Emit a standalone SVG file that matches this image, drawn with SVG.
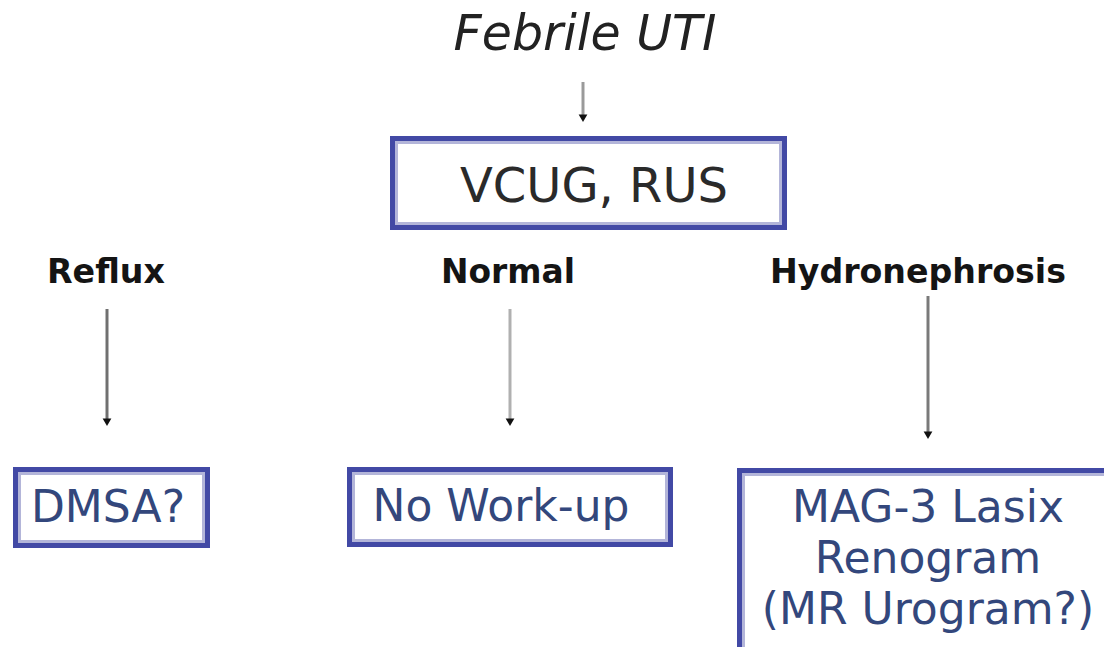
<svg xmlns="http://www.w3.org/2000/svg" width="1104" height="647" viewBox="0 0 1104 647">
  <style>
    .box { fill: #ffffff; stroke: #4249a5; stroke-width: 5; }
    .inner { fill: none; stroke: #b3b5d9; stroke-width: 3; }
    .btxt { font-family: "DejaVu Sans", Verdana, sans-serif; font-size: 44px; fill: #33477c; text-anchor: middle; }
    .lbl { font-family: "DejaVu Sans", Verdana, sans-serif; font-size: 34px; font-weight: bold; fill: #141414; text-anchor: middle; }
    .conn { stroke-width: 3; fill: none; }
  </style>
  <defs>
    <marker id="ah" markerUnits="userSpaceOnUse" markerWidth="10" markerHeight="10" refX="3" refY="4" orient="auto" viewBox="0 0 8 8">
      <path d="M1,0.5 L7,4 L1,7.5 Z" fill="#111111"/>
    </marker>
  </defs>

  <g id="start">
    <text x="585" y="50" font-family="DejaVu Sans, Verdana, sans-serif" font-size="49" font-style="italic" fill="#222222" text-anchor="middle">Febrile UTI</text>
  </g>

  <g id="vcug">
    <rect class="box" x="392.5" y="138.5" width="392" height="89"/>
    <rect class="inner" x="396.5" y="142.5" width="384" height="81"/>
    <text x="594" y="202" font-family="DejaVu Sans, Verdana, sans-serif" font-size="48" fill="#2a2a2a" text-anchor="middle">VCUG, RUS</text>
  </g>

  <g id="label-reflux"><text class="lbl" x="106" y="283" textLength="118" lengthAdjust="spacingAndGlyphs">Reflux</text></g>
  <g id="label-normal"><text class="lbl" x="508" y="283" textLength="134" lengthAdjust="spacingAndGlyphs">Normal</text></g>
  <g id="label-hydro"><text class="lbl" x="918" y="283" textLength="296" lengthAdjust="spacingAndGlyphs">Hydronephrosis</text></g>

  <g id="dmsa">
    <rect class="box" x="15.5" y="469.5" width="192" height="76"/>
    <rect class="inner" x="19.5" y="473.5" width="184" height="68"/>
    <text class="btxt" x="108" y="522">DMSA?</text>
  </g>

  <g id="noworkup">
    <rect class="box" x="349.5" y="469.5" width="321" height="75"/>
    <rect class="inner" x="353.5" y="473.5" width="313" height="67"/>
    <text class="btxt" x="501" y="521">No Work-up</text>
  </g>

  <g id="mag3">
    <rect class="box" x="739.5" y="470.5" width="400" height="300"/>
    <rect class="inner" x="743.5" y="474.5" width="392" height="292"/>
    <text class="btxt" x="928" y="522">MAG-3 Lasix</text>
    <text class="btxt" x="928" y="573">Renogram</text>
    <text class="btxt" x="928" y="624">(MR Urogram?)</text>
  </g>

  <g id="connectors">
    <line class="conn" x1="583" y1="82" x2="583" y2="117" stroke="#9a9a9a" marker-end="url(#ah)"/>
    <line class="conn" x1="107" y1="309" x2="107" y2="421" stroke="#707070" marker-end="url(#ah)"/>
    <line class="conn" x1="510" y1="309" x2="510" y2="421" stroke="#b0b0b0" marker-end="url(#ah)"/>
    <line class="conn" x1="928" y1="296" x2="928" y2="434" stroke="#7a7a7a" marker-end="url(#ah)"/>
  </g>
</svg>
